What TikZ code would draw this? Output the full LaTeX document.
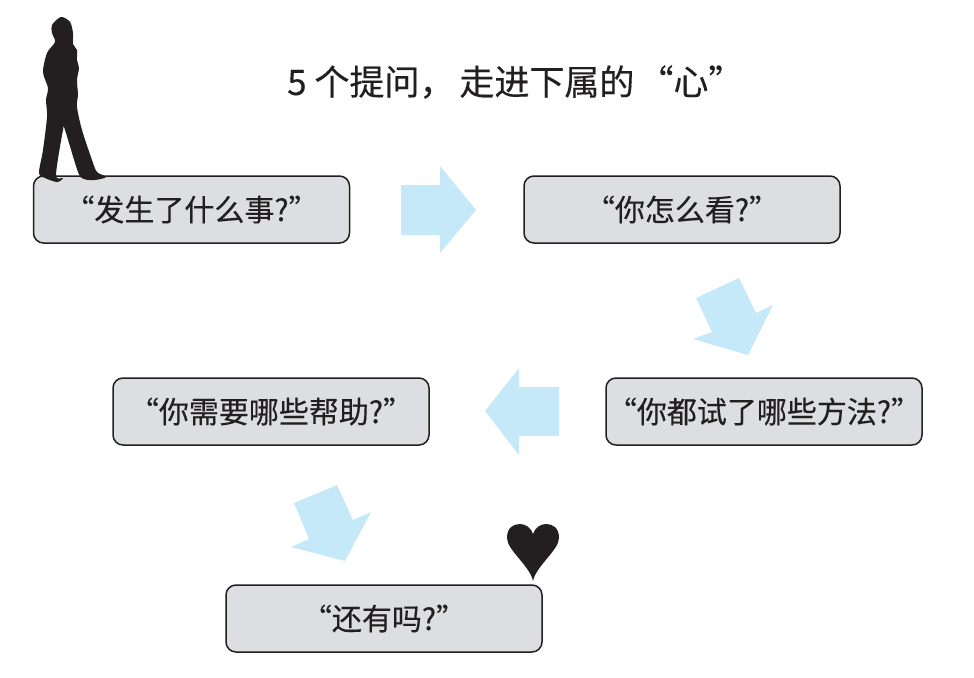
\documentclass[tikz,border=0pt]{standalone}
\usepackage{fontspec}
\newfontfamily\cjk[FakeBold = 0.3]{Noto Sans CJK SC}
\definecolor{boxgray}{HTML}{DCDEE1}
\definecolor{arrowblue}{HTML}{C6E9FA}
\definecolor{inkblack}{HTML}{231F20}
\tikzset{
    question/.style = {draw = inkblack, line width = 1.5pt, fill = boxgray, rounded corners = 10pt,
        minimum width = 316pt, minimum height = 67pt, inner sep = 0pt, font = \cjk\fontsize{30}{32}\selectfont, text = inkblack},
    flowarrow/.style = {fill = arrowblue},
    figure/.style = {fill = inkblack}
}
\begin{document}
\begin{tikzpicture}[x = 1pt, y = -1pt]
    \useasboundingbox (0, 0) rectangle (974, 677);

    \node (title) at (287, 82) [anchor = west, inner sep = 0pt, font = \cjk\fontsize{35}{38}\selectfont, text = inkblack] {5 个提问，\hspace{5pt}走进下属的\hspace{4pt}“心”};

    \node [question] (what) at (191.5, 209.5) {“发生了什么事?”};
    \node [question] (think) at (682, 209.5) {“你怎么看?”};
    \node [question] (tried) at (764, 411.5) {“你都试了哪些方法?”};
    \node [question] (help) at (271, 411.5) {“你需要哪些帮助?”};
    \node [question] (more) at (384, 618.5) {“还有吗?”};

    % arrows
    \fill [flowarrow] (401, 185) -- (440, 185) -- (440, 166) -- (476, 210) -- (440, 253) -- (440, 235) -- (401, 235) -- cycle;
    \fill [flowarrow] (696, 298) -- (739, 278) -- (756, 313) -- (773, 305) -- (748, 355) -- (693, 339) -- (712, 332) -- cycle;
    \fill [flowarrow] (559, 387) -- (519, 387) -- (519, 368) -- (485, 411) -- (519, 455) -- (519, 436) -- (559, 436) -- cycle;
    \fill [flowarrow] (294, 503) -- (337, 485) -- (353, 520) -- (371, 512) -- (345, 561) -- (291, 547) -- (309, 539) -- cycle;

    % person
    \fill [figure] plot [smooth cycle, tension = 0.5] coordinates {
        (61, 17) (70, 22) (73, 33) (73, 44) (77, 50) (77, 60) (79, 68) (77, 80) (78, 95) (77, 107)
        (82, 130) (92, 160) (97, 172) (106, 177) (95, 180) (84, 179) (78, 172) (65, 130) (63, 130)
        (56, 175) (63, 178) (57, 182) (45, 178) (39, 173) (43, 150) (47, 117) (46, 100) (48, 88)
        (43, 72) (47, 53) (55, 42) (52, 33) (52, 25)
    };

    % heart
    \fill [figure] (533, 581) .. controls (530, 566) and (507, 550) .. (507, 538)
        .. controls (507, 528) and (513, 524) .. (520, 524)
        .. controls (526, 524) and (531, 528) .. (533, 534)
        .. controls (535, 528) and (540, 524) .. (546, 524)
        .. controls (553, 524) and (559, 528) .. (559, 538)
        .. controls (559, 550) and (536, 566) .. (533, 581) -- cycle;
\end{tikzpicture}
\end{document}
